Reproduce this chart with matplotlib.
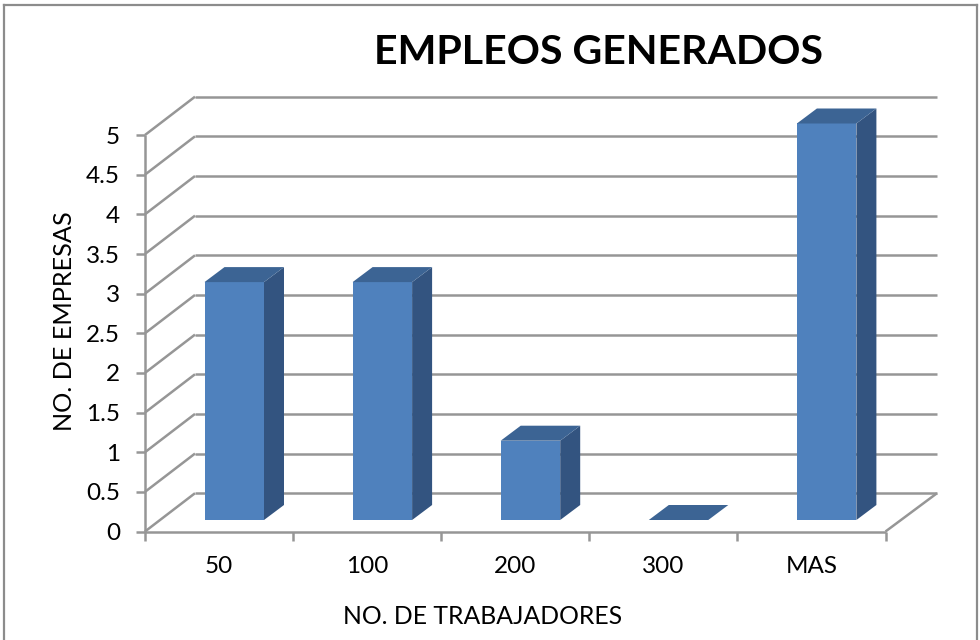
import matplotlib
matplotlib.use("Agg")
import matplotlib.pyplot as plt
from matplotlib.patches import Polygon, Rectangle

plt.rcParams['font.family'] = ['Lato', 'DejaVu Sans']

categories = ['50', '100', '200', '300', 'MAS']
values = [3, 3, 1, 0, 5]
y_ticks = [0, 0.5, 1, 1.5, 2, 2.5, 3, 3.5, 4, 4.5, 5]
y_tick_labels = ['0', '0.5', '1', '1.5', '2', '2.5', '3', '3.5', '4', '4.5', '5']
title = 'EMPLEOS GENERADOS'
x_label = 'NO. DE TRABAJADORES'
y_label = 'NO. DE EMPRESAS'

W, H = 980, 640
fig = plt.figure(figsize=(W / 100, H / 100), dpi=100, facecolor='white')

# Front plane of the pseudo-3D plot
L, R, B, T = 145.0, 885.5, 531.5, 135.0
ax = fig.add_axes([L / W, 1 - B / H, (R - L) / W, (B - T) / H])
ax.set_xlim(0, len(categories))
ax.set_ylim(0, 5)
ax.axis('off')

ux = (R - L) / len(categories)
uy = (B - T) / 5
GRID = '#969696'
DX, DY = 50.0 / ux, 38.3 / uy        # depth of the floor
EXTRA = 1.5 / ux
lw = 1.8


def seg(xs, ys, **kw):
    ax.plot(xs, ys, color=GRID, lw=lw, clip_on=False, solid_capstyle='butt', **kw)


# Back wall gridlines, side wall diagonals
for v in y_ticks:
    seg([0, DX], [v, v + DY], zorder=1)
    seg([DX, len(categories) + DX + EXTRA], [v + DY, v + DY], zorder=1)
    seg([-9 / ux, 0], [v, v], zorder=1)
seg([0, 0], [-9 / uy, 5], zorder=2)
seg([0, len(categories)], [0, 0], zorder=2)
seg([len(categories), len(categories) + DX + EXTRA], [0, DY], zorder=1)
for i in range(1, len(categories) + 1):
    seg([i, i], [-9 / uy, 0], zorder=1)

# Bars
bar_w = 59.5 / ux
bar_x0 = 59.5 / ux
bar_y0 = 11.5 / uy
bar_dx = 20.0 / ux
bar_dy = 15.0 / uy
FRONT, SIDE, TOP = '#4F81BD', '#335480', '#3C6494'
for i, v in enumerate(values):
    x0 = i + bar_x0
    x1 = x0 + bar_w
    y0 = bar_y0
    y1 = bar_y0 + v
    if v > 0:
        ax.add_patch(Polygon([(x1, y0), (x1 + bar_dx, y0 + bar_dy),
                              (x1 + bar_dx, y1 + bar_dy), (x1, y1)],
                             fc=SIDE, ec='none', zorder=3, clip_on=False))
        ax.add_patch(Rectangle((x0, y0), bar_w, v, fc=FRONT, ec='none',
                               zorder=4, clip_on=False))
    ax.add_patch(Polygon([(x0, y1), (x1, y1), (x1 + bar_dx, y1 + bar_dy),
                          (x0 + bar_dx, y1 + bar_dy)],
                         fc=TOP, ec='none', zorder=4, clip_on=False))

# Tick labels
for v, s in zip(y_ticks, y_tick_labels):
    ax.annotate(s, xy=(0, v), xytext=(-18, -1.5), textcoords='offset points',
                ha='right', va='center', fontsize=17.5, color='black')
for i, s in enumerate(categories):
    ax.annotate(s, xy=(i + 0.5, 0), xytext=(0, -25.5), textcoords='offset points',
                ha='center', va='center', fontsize=17.5, color='black',
                annotation_clip=False)

fig.text(598 / W, 1 - 53 / H, title, ha='center', va='center',
         fontsize=29.6, fontweight='bold', color='black')
fig.text(483 / W, 1 - 617 / H, x_label, ha='center', va='center',
         fontsize=17.8, color='black')
fig.text(64 / W, 1 - 321 / H, y_label, ha='center', va='center', rotation=90,
         fontsize=18.2, color='black')

# Chart frame (cropped at the bottom)
for xs, ys in [((4, 4), (5, 640)), ((4, 977), (5, 5)), ((977, 977), (5, 640))]:
    fig.add_artist(plt.Line2D([x / W for x in xs], [1 - y / H for y in ys],
                              color='#8C8C8C', lw=1.6))

fig.savefig('out.png', dpi=100, facecolor='white')
